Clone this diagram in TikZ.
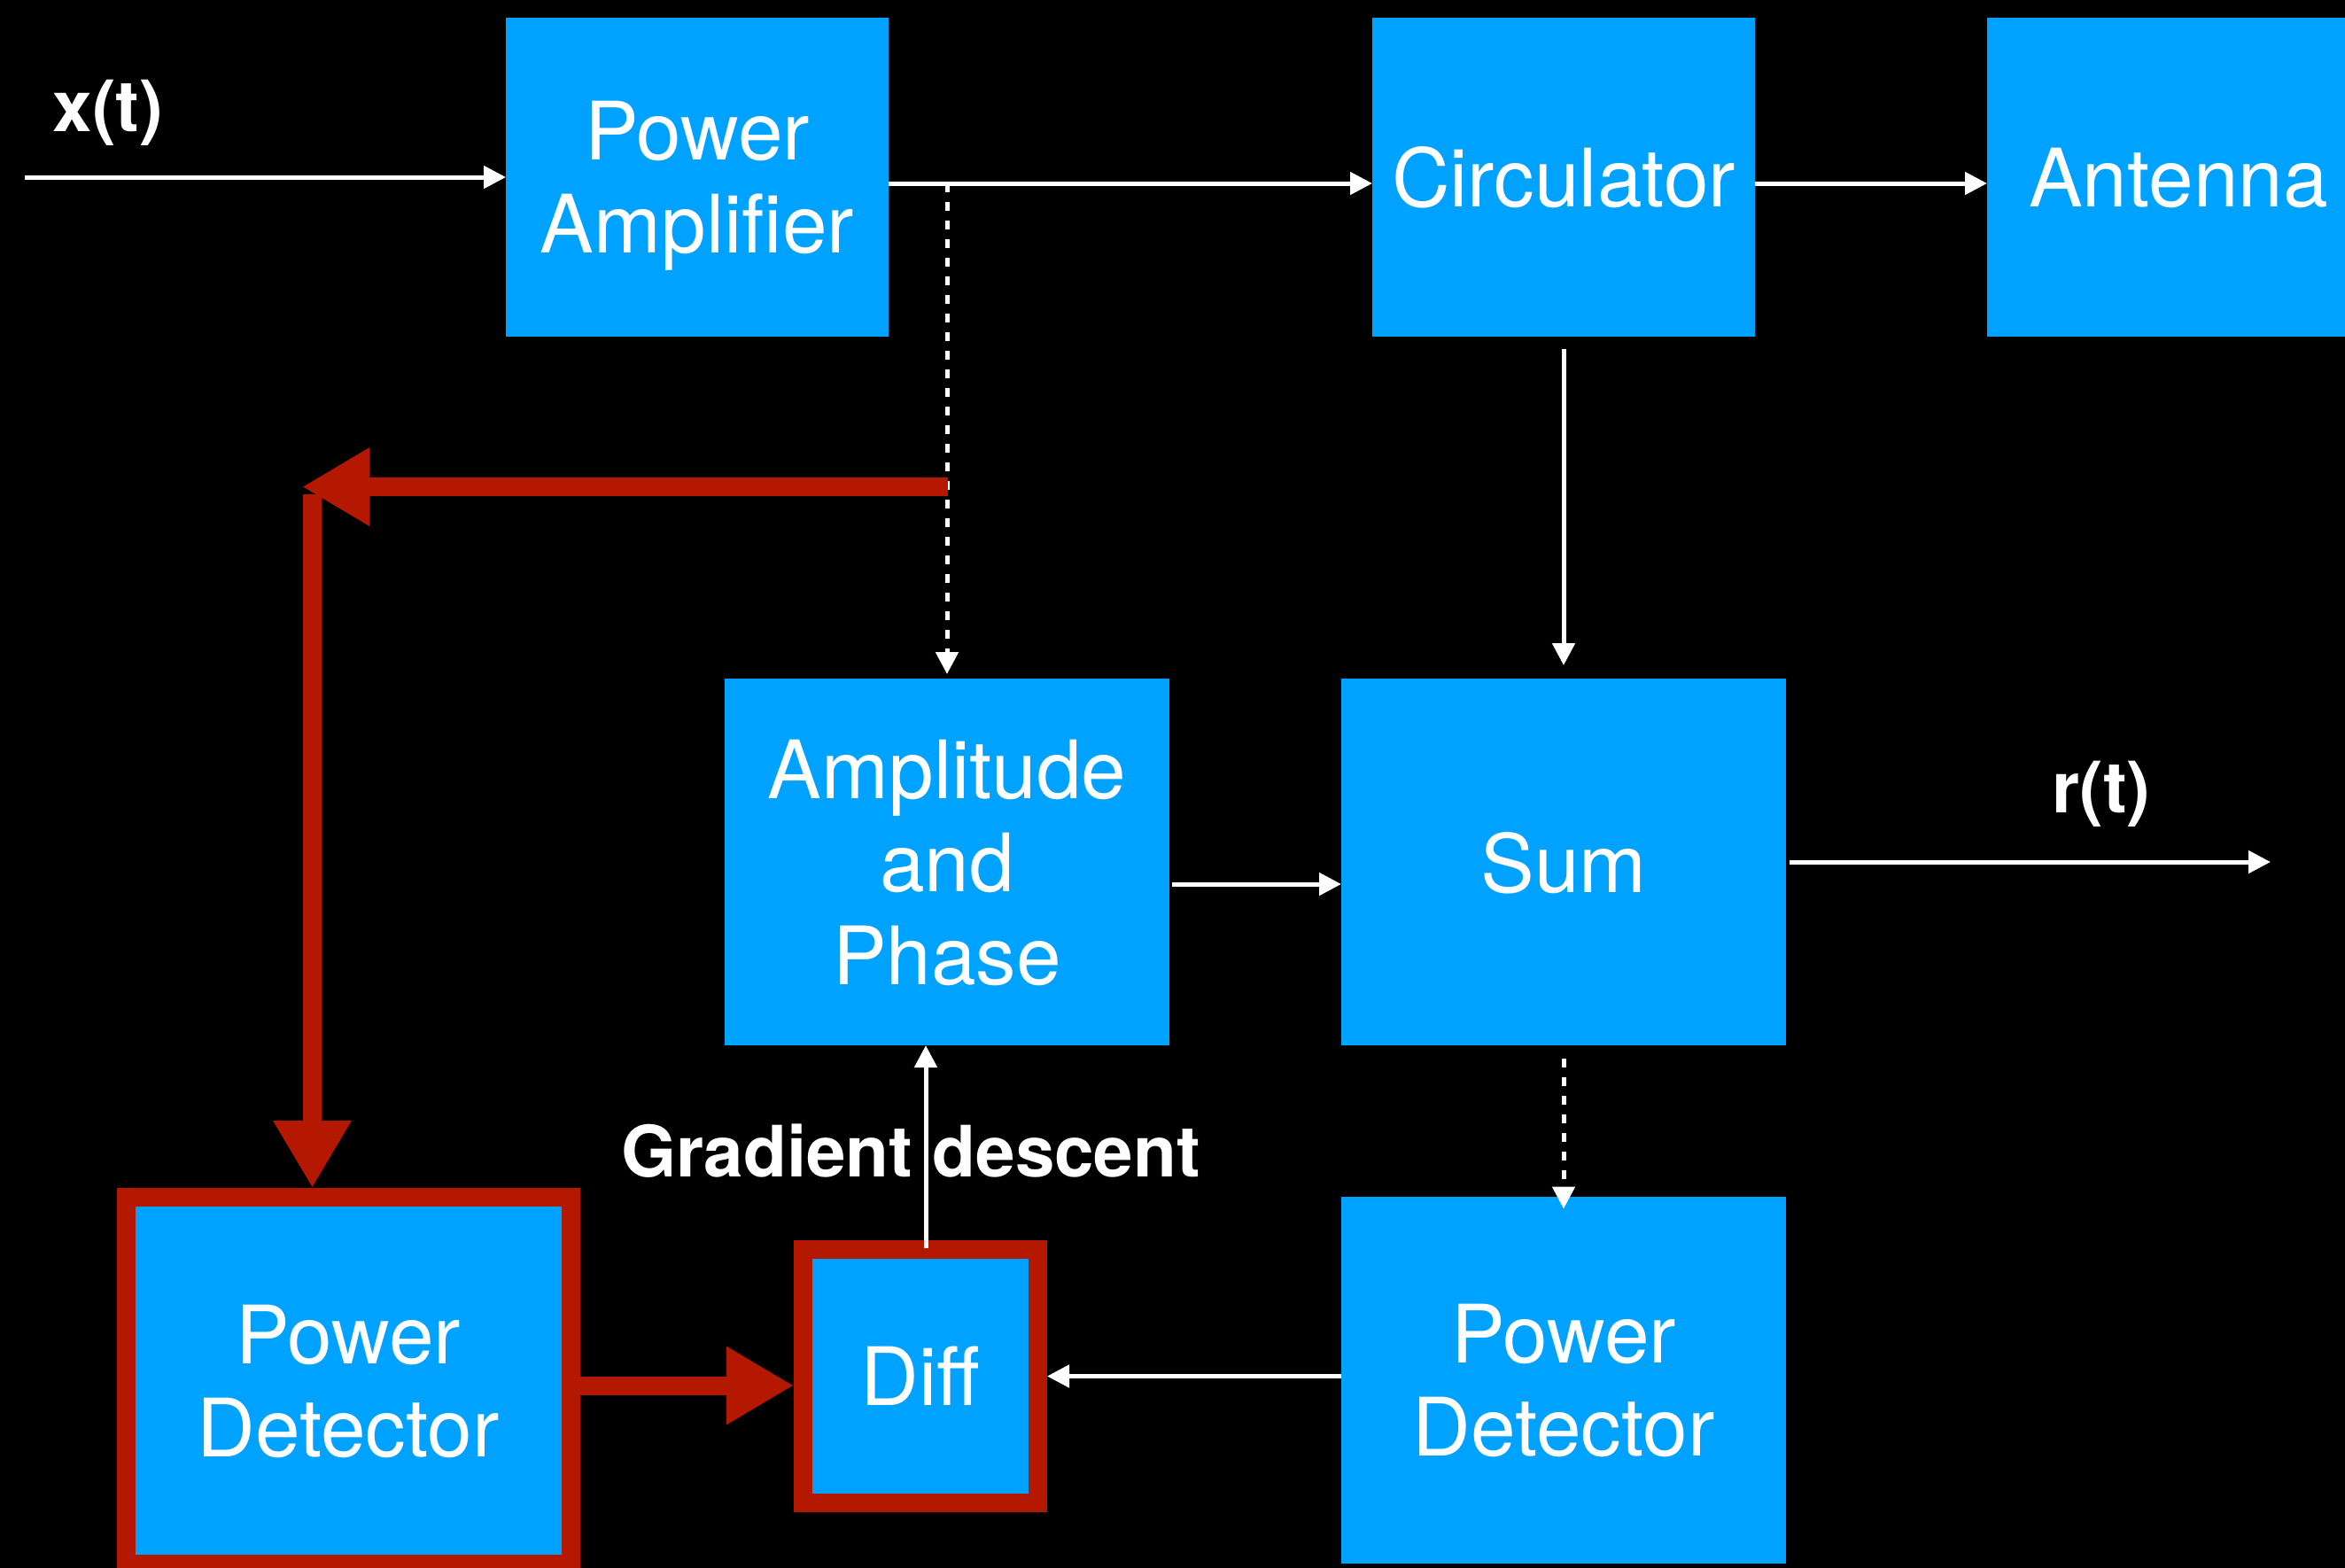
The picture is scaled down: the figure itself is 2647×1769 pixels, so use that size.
\documentclass[tikz,border=0pt]{standalone}
\usepackage{fontspec}
\setmainfont{TeX Gyre Heros}
\usetikzlibrary{arrows.meta}
\definecolor{boxblue}{RGB}{0,162,255}
\definecolor{fbred}{RGB}{181,24,0}

\begin{document}
\begin{tikzpicture}[x=.5pt,y=-.5pt,
  box/.style={fill=boxblue,text=white,inner sep=0pt,outer sep=0pt,align=center,text depth=0pt,
    minimum width=216pt,minimum height=180pt,font=\fontsize{45.5}{52.5}\selectfont},
  bigbox/.style={box,minimum width=251pt,minimum height=207pt},
  marked/.style={draw=fbred,line width=10.5pt,outer sep=5.25pt},
  lbl/.style={inner sep=0pt,outer sep=0pt,anchor=base,text=white,font=\bfseries\fontsize{40}{48}\selectfont},
  wire/.style={draw=white,line width=2.5pt,-{Triangle[length=12.5pt,width=12.5pt]}},
  probe/.style={wire,dash pattern=on 5pt off 5.5pt},
  feedback/.style={draw=fbred,line width=10.5pt,-{Triangle[length=38pt,width=41.5pt]}}]
\useasboundingbox (0,0) rectangle (2647,1769);
\fill[black] (-20,-20) rectangle (2667,1789);
\clip (0,0) rectangle (2647,1769);

% transmit chain
\node[box] (PA) at (787,200) {Power\\Amplifier};
\node[box] (Circ) at (1765,200) {Circulator};
\node[box] (Ant) at (2459,200) {Antenna};

% cancellation path
\node[bigbox] (AP) at (1069,973) {Amplitude\\and\\Phase};
\node[bigbox] (Sum) at (1765,973) {Sum};
\node[bigbox] (PDR) at (1765,1557.5) {Power\\Detector};
\node[bigbox,marked] (PDL) at (393,1558.5) {Power\\Detector};
\node[box,marked,minimum width=132.5pt,minimum height=143pt] (Diff) at (1039,1553.5) {Diff};

% labels
\node[lbl] (xin) at (122,148) {x(t)};
\node[lbl] (rout) at (2372,917) {r(t)};
\node[lbl] (grad) at (1028,1328) {Gradient descent};

\coordinate (src) at (28,200);
\coordinate (sink) at (2563,973);
\coordinate (split) at (1069,207);
\coordinate (tap) at (1069.5,549.5);
\coordinate (bend) at (341,549.5);
\coordinate (turn) at (352.5,558);
\coordinate (gd) at ([xshift=3pt,yshift=-4.5pt]Diff.north);

\draw[wire] (src) -- (PA.west);
\draw[wire] ([yshift=-3.5pt]PA.east) -- ([yshift=-3.5pt]Circ.west);
\draw[wire] ([yshift=-3.5pt]Circ.east) -- ([yshift=-3.5pt]Ant.west);
\draw[probe] (split) -- ([yshift=2.5pt]AP.north);
\draw[wire] ([yshift=-7pt]Circ.south) -- ([yshift=7.5pt]Sum.north);
\draw[wire] ([xshift=1.5pt,yshift=-12.5pt]AP.east) -- ([yshift=-12.5pt]Sum.west);
\draw[wire] ([xshift=2pt]Sum.east) -- (sink);
\draw[probe] ([yshift=-7.5pt]Sum.south) -- ([yshift=-7pt]PDR.north);
\draw[wire] (PDR.west |- Diff.east) -- (Diff.east);
\draw[wire] (gd) -- (gd |- AP.south);

% feedback loop
\draw[feedback] (tap) -- (bend);
\draw[feedback] (turn) -- (turn |- PDL.north);
\draw[feedback] ([yshift=-2.75pt]PDL.east) -- ([yshift=-5.25pt]Diff.west);
\end{tikzpicture}
\end{document}
